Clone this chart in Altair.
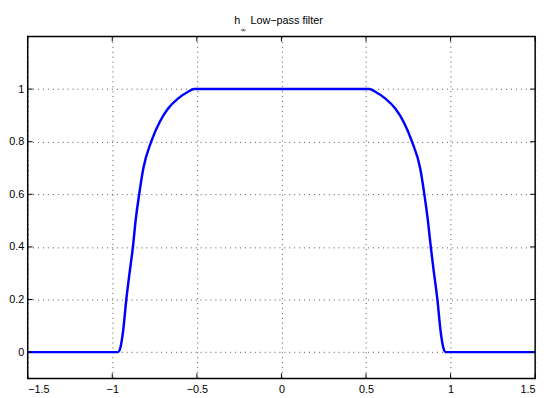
import altair as alt
import pandas as pd

# series
x_rise = [-0.965, -0.955, -0.936, -0.917, -0.898, -0.878, -0.862, -0.841,
          -0.816, -0.770, -0.719, -0.670, -0.612, -0.554, -0.516]
y_rise = [0.0, 0.01, 0.08, 0.2, 0.3, 0.4, 0.5, 0.6,
          0.7, 0.8, 0.876, 0.926, 0.964, 0.989, 1.0]
x_fall = [0.520, 0.557, 0.615, 0.673, 0.722, 0.772, 0.820,
          0.845, 0.866, 0.883, 0.902, 0.922, 0.941, 0.960, 0.969]
y_fall = [1.0, 0.989, 0.964, 0.926, 0.876, 0.8, 0.7,
          0.6, 0.5, 0.4, 0.3, 0.2, 0.08, 0.01, 0.0]
x_ends = [-1.5, 1.5]

x_ticks = [-1.5, -1.0, -0.5, 0.0, 0.5, 1.0, 1.5]
y_ticks = [0.0, 0.2, 0.4, 0.6, 0.8, 1.0]

title_parts = ["h", "\u221e", "Low\u2212pass filter"]

W, H = 515, 347

xs = [x_ends[0]] + x_rise + x_fall + [x_ends[1]]
ys = [0.0] + y_rise + y_fall + [0.0]
df = pd.DataFrame({"x": xs, "y": ys, "o": list(range(len(xs)))})
dfx = pd.DataFrame({"x": x_ticks})
dfy = pd.DataFrame({"y": y_ticks})

xscale = alt.Scale(domain=[-1.5, 1.5], nice=False, zero=False)
yscale = alt.Scale(domain=[-0.1, 1.2], nice=False, zero=False)

axis_common = dict(
    grid=True, gridColor="#222", gridDash=[1, 4], gridWidth=1, gridOpacity=0.8,
    domain=False, ticks=False, labelFont="Liberation Sans", labelFontSize=11,
    labelColor="black", title=None,
)

line = alt.Chart(df).mark_line(color="#0000ff", strokeWidth=2.5, interpolate="monotone").encode(
    x=alt.X("x:Q", scale=xscale, axis=alt.Axis(values=x_ticks, format="~g", labelPadding=5, **axis_common)),
    y=alt.Y("y:Q", scale=yscale, axis=alt.Axis(values=y_ticks, format="~g", labelPadding=4, **axis_common)),
    order="o:Q",
)

tick_style = dict(color="black", strokeWidth=1)
xt_bot = alt.Chart(dfx).mark_rule(**tick_style).encode(
    x=alt.X("x:Q", scale=xscale), y=alt.value(H), y2=alt.value(H - 5))
xt_top = alt.Chart(dfx).mark_rule(**tick_style).encode(
    x=alt.X("x:Q", scale=xscale), y=alt.value(0), y2=alt.value(5))
yt_left = alt.Chart(dfy).mark_rule(**tick_style).encode(
    y=alt.Y("y:Q", scale=yscale), x=alt.value(0), x2=alt.value(5))
yt_right = alt.Chart(dfy).mark_rule(**tick_style).encode(
    y=alt.Y("y:Q", scale=yscale), x=alt.value(W), x2=alt.value(W - 5))

t1 = alt.Chart(pd.DataFrame({"t": [title_parts[0]]})).mark_text(
    align="left", baseline="alphabetic", font="Liberation Sans", fontSize=11, color="black"
).encode(text="t:N", x=alt.value(209.5), y=alt.value(-12.5))
t2 = alt.Chart(pd.DataFrame({"t": [title_parts[1]]})).mark_text(
    align="left", baseline="alphabetic", font="DejaVu Sans", fontSize=7, color="black"
).encode(text="t:N", x=alt.value(216), y=alt.value(-4.5))
t3 = alt.Chart(pd.DataFrame({"t": [title_parts[2]]})).mark_text(
    align="left", baseline="alphabetic", font="Liberation Sans", fontSize=11, color="black"
).encode(text="t:N", x=alt.value(226), y=alt.value(-12.5))

chart = alt.layer(line, xt_bot, xt_top, yt_left, yt_right, t1, t2, t3).properties(
    width=W, height=H,
    autosize=alt.AutoSizeParams(type="none"),
    padding={"left": 20, "top": 26, "right": 10, "bottom": 20},
    background="white",
).configure_view(stroke="black", strokeWidth=1.5)

chart.save("out.html", embed_options={"renderer": "svg", "actions": False})
